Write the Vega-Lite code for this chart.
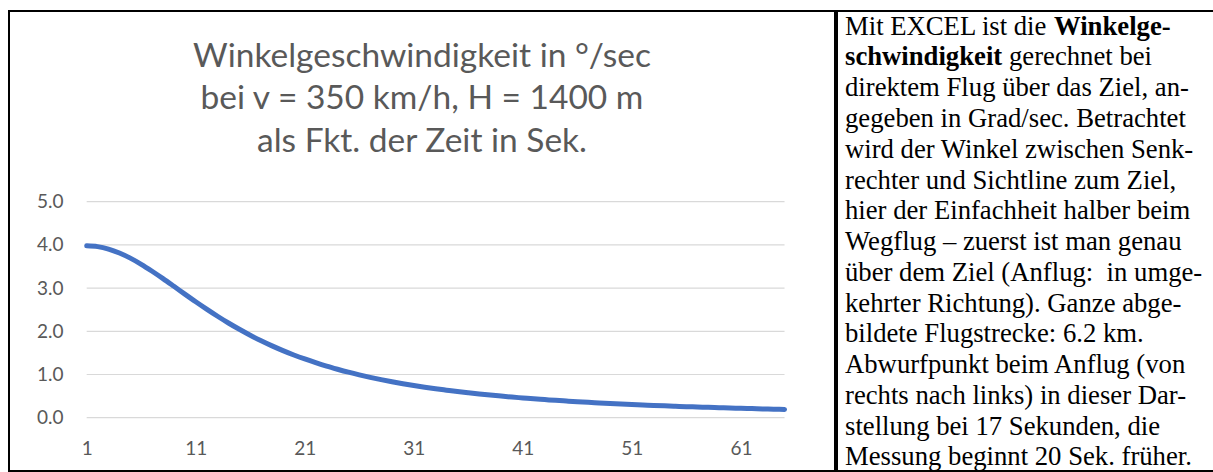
{
  "$schema": "https://vega.github.io/schema/vega-lite/v6.json",
  "padding": {"left": 8, "top": 10, "right": 0, "bottom": 0},
  "background": "white",
  "spacing": 0,
  "config": {"view": {"stroke": "black", "strokeWidth": 2}},
  "hconcat": [
    {
      "width": 826,
      "height": 460,
      "title": {
        "text": ["Winkelgeschwindigkeit in °/sec", "bei v = 350 km/h, H = 1400 m", "als Fkt. der Zeit in Sek."],
        "font": "Lato",
        "fontSize": 33.5,
        "fontWeight": "normal",
        "color": "#595959",
        "lineHeight": 42.5,
        "anchor": "middle",
        "baseline": "top",
        "offset": -148
      },
      "layer": [
        {
          "data": {"values": [{"g": 0}, {"g": 1}, {"g": 2}, {"g": 3}, {"g": 4}, {"g": 5}]},
          "mark": {"type": "rule", "color": "#d9d9d9", "strokeWidth": 1.2},
          "encoding": {
            "y": {"field": "g", "type": "quantitative",
              "scale": {"domain": [-1.234, 9.414], "nice": false, "zero": false},
              "axis": {"values": [0, 1, 2, 3, 4, 5], "format": ".1f", "offset": -56, "domain": false, "ticks": false, "tickSize": 0, "grid": false, "labelPadding": 2, "labelFont": "Lato", "labelFontSize": 19, "labelColor": "#595959", "title": null}},
            "x": {"datum": 1, "type": "quantitative",
              "scale": {"domain": [-6.126, 69.63], "nice": false, "zero": false},
              "axis": {"values": [1, 11, 21, 31, 41, 51, 61], "offset": -23, "domain": false, "ticks": false, "tickSize": 0, "grid": false, "labelPadding": 0, "labelBaseline": "middle", "labelFlush": false, "labelFont": "Lato", "labelFontSize": 19, "labelColor": "#595959", "title": null}},
            "x2": {"datum": 65}
          }
        },
        {
          "data": {"values": [
            {"t": 1, "v": 3.979}, {"t": 2, "v": 3.960}, {"t": 3, "v": 3.904}, {"t": 4, "v": 3.813}, {"t": 5, "v": 3.694},
            {"t": 6, "v": 3.551}, {"t": 7, "v": 3.390}, {"t": 8, "v": 3.219}, {"t": 9, "v": 3.041}, {"t": 10, "v": 2.861},
            {"t": 11, "v": 2.684}, {"t": 12, "v": 2.513}, {"t": 13, "v": 2.348}, {"t": 14, "v": 2.192}, {"t": 15, "v": 2.046},
            {"t": 16, "v": 1.908}, {"t": 17, "v": 1.781}, {"t": 18, "v": 1.662}, {"t": 19, "v": 1.553}, {"t": 20, "v": 1.452},
            {"t": 21, "v": 1.359}, {"t": 22, "v": 1.273}, {"t": 23, "v": 1.193}, {"t": 24, "v": 1.121}, {"t": 25, "v": 1.053},
            {"t": 26, "v": 0.991}, {"t": 27, "v": 0.934}, {"t": 28, "v": 0.881}, {"t": 29, "v": 0.832}, {"t": 30, "v": 0.787},
            {"t": 31, "v": 0.745}, {"t": 32, "v": 0.706}, {"t": 33, "v": 0.670}, {"t": 34, "v": 0.637}, {"t": 35, "v": 0.605},
            {"t": 36, "v": 0.576}, {"t": 37, "v": 0.549}, {"t": 38, "v": 0.523}, {"t": 39, "v": 0.500}, {"t": 40, "v": 0.477},
            {"t": 41, "v": 0.457}, {"t": 42, "v": 0.437}, {"t": 43, "v": 0.419}, {"t": 44, "v": 0.401}, {"t": 45, "v": 0.385},
            {"t": 46, "v": 0.370}, {"t": 47, "v": 0.355}, {"t": 48, "v": 0.342}, {"t": 49, "v": 0.329}, {"t": 50, "v": 0.316},
            {"t": 51, "v": 0.305}, {"t": 52, "v": 0.294}, {"t": 53, "v": 0.283}, {"t": 54, "v": 0.274}, {"t": 55, "v": 0.264},
            {"t": 56, "v": 0.255}, {"t": 57, "v": 0.247}, {"t": 58, "v": 0.239}, {"t": 59, "v": 0.231}, {"t": 60, "v": 0.224},
            {"t": 61, "v": 0.217}, {"t": 62, "v": 0.210}, {"t": 63, "v": 0.204}, {"t": 64, "v": 0.198}, {"t": 65, "v": 0.192}
          ]},
          "mark": {"type": "line", "color": "#4472C4", "strokeWidth": 5, "interpolate": "monotone", "strokeCap": "round"},
          "encoding": {
            "x": {"field": "t", "type": "quantitative",
              "scale": {"domain": [-6.126, 69.63], "nice": false, "zero": false},
              "axis": {"values": [1, 11, 21, 31, 41, 51, 61], "offset": -23, "domain": false, "ticks": false, "tickSize": 0, "grid": false, "labelPadding": 0, "labelBaseline": "middle", "labelFlush": false, "labelFont": "Lato", "labelFontSize": 19, "labelColor": "#595959", "title": null}},
            "y": {"field": "v", "type": "quantitative",
              "scale": {"domain": [-1.234, 9.414], "nice": false, "zero": false},
              "axis": {"values": [0, 1, 2, 3, 4, 5], "format": ".1f", "offset": -56, "domain": false, "ticks": false, "tickSize": 0, "grid": false, "labelPadding": 2, "labelFont": "Lato", "labelFontSize": 19, "labelColor": "#595959", "title": null}}
          }
        }
      ]
    },
    {
      "width": 378,
      "height": 460,
      "data": {"values": [
        {"line": 1, "k": "n", "text": "Mit EXCEL ist die"},
        {"line": 1, "k": "b1", "text": "Winkelge-"},
        {"line": 2, "k": "b0", "text": "schwindigkeit"},
        {"line": 2, "k": "n2", "text": "gerechnet bei"},
        {"line": 3, "k": "n", "text": "direktem Flug über das Ziel, an-"},
        {"line": 4, "k": "n", "text": "gegeben in Grad/sec. Betrachtet"},
        {"line": 5, "k": "n", "text": "wird der Winkel zwischen Senk-"},
        {"line": 6, "k": "n", "text": "rechter und Sichtline zum Ziel,"},
        {"line": 7, "k": "n", "text": "hier der Einfachheit halber beim"},
        {"line": 8, "k": "n", "text": "Wegflug – zuerst ist man genau"},
        {"line": 9, "k": "n", "text": "über dem Ziel (Anflug:\u00a0 in umge-"},
        {"line": 10, "k": "n", "text": "kehrter Richtung). Ganze abge-"},
        {"line": 11, "k": "n", "text": "bildete Flugstrecke: 6.2 km."},
        {"line": 12, "k": "n", "text": "Abwurfpunkt beim Anflug (von"},
        {"line": 13, "k": "n", "text": "rechts nach links) in dieser Dar-"},
        {"line": 14, "k": "n", "text": "stellung bei 17 Sekunden, die"},
        {"line": 15, "k": "n", "text": "Messung beginnt 20 Sek. früher."}
      ]},
      "encoding": {
        "x": {"datum": 0, "type": "quantitative", "scale": {"domain": [-8, 370], "nice": false, "zero": false}, "axis": null},
        "y": {"field": "line", "type": "quantitative", "scale": {"domain": [0.23, 15.18], "nice": false, "zero": false, "reverse": true}, "axis": null},
        "text": {"field": "text"}
      },
      "layer": [
        {"transform": [{"filter": "datum.k === 'n'"}],
         "mark": {"type": "text", "align": "left", "baseline": "alphabetic", "font": "Liberation Serif", "fontSize": 26.7, "color": "black"}},
        {"transform": [{"filter": "datum.k === 'b1'"}],
         "mark": {"type": "text", "align": "left", "baseline": "alphabetic", "font": "Liberation Serif", "fontSize": 26.7, "fontWeight": "bold", "color": "black", "dx": 209}},
        {"transform": [{"filter": "datum.k === 'b0'"}],
         "mark": {"type": "text", "align": "left", "baseline": "alphabetic", "font": "Liberation Serif", "fontSize": 26.7, "fontWeight": "bold", "color": "black"}},
        {"transform": [{"filter": "datum.k === 'n2'"}],
         "mark": {"type": "text", "align": "left", "baseline": "alphabetic", "font": "Liberation Serif", "fontSize": 26.7, "color": "black", "dx": 164}}
      ]
    }
  ]
}
